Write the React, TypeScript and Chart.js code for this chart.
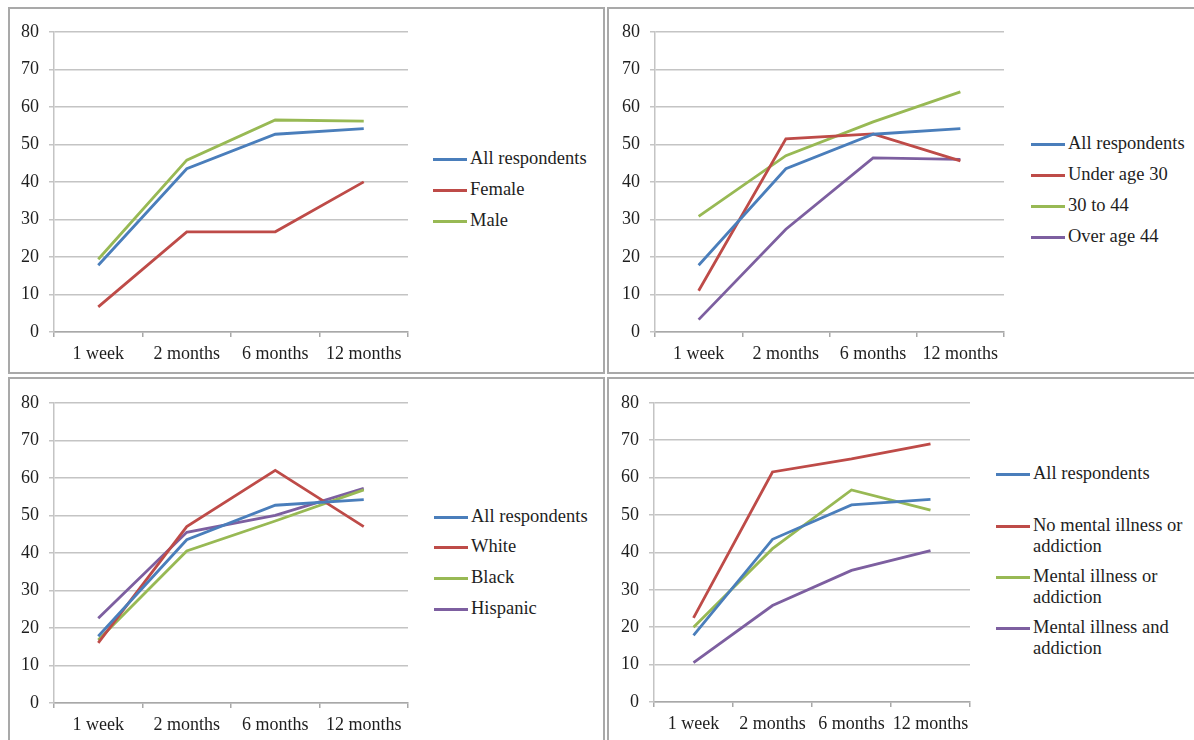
import React, { useEffect, useRef } from "react";
import { Chart, registerables } from "chart.js";

Chart.register(...registerables);

const categories = ["1 week", "2 months", "6 months", "12 months"];
const yTicks = [0, 10, 20, 30, 40, 50, 60, 70, 80];

const allRespondents = [17.8, 43.5, 52.7, 54.2];

// Panel 1: gender
const female = [6.7, 26.7, 26.7, 40.0];
const male = [19.4, 45.8, 56.5, 56.2];

// Panel 2: age
const underAge30 = [11.0, 51.5, 52.8, 45.6];
const age30to44 = [30.8, 47.0, 56.0, 64.0];
const overAge44 = [3.3, 27.4, 46.4, 46.0];

// Panel 3: race
const white = [16.0, 47.0, 62.0, 47.0];
const black = [16.8, 40.5, 48.5, 56.8];
const hispanic = [22.6, 45.5, 50.0, 57.2];

// Panel 4: mental health
const noMentalIllness = [22.5, 61.5, 65.0, 69.0];
const mentalIllnessOr = [20.0, 41.0, 56.7, 51.3];
const mentalIllnessAnd = [10.5, 25.8, 35.2, 40.5];

const BLUE = "#4a7ebb";
const RED = "#be4b48";
const GREEN = "#98b954";
const PURPLE = "#7d5fa0";

const FONT = "'Liberation Serif', 'Times New Roman', serif";
const TEXT = "#1e1e1e";

type Series = { label: string[]; data: number[]; color: string };

type PanelDef = {
  box: { left: number; top: number; width: number; height: number };
  plot: { L: number; T: number; R: number; B: number };
  series: Series[];
  legend: { x: number; ys: number[] };
};

const panels: PanelDef[] = [
  {
    box: { left: 8, top: 7, width: 597, height: 367 },
    plot: { L: 54, T: 27, R: 408, B: 332 },
    series: [
      { label: ["All respondents"], data: allRespondents, color: BLUE },
      { label: ["Female"], data: female, color: RED },
      { label: ["Male"], data: male, color: GREEN },
    ],
    legend: { x: 433, ys: [159, 190, 221] },
  },
  {
    box: { left: 607, top: 7, width: 600, height: 367 },
    plot: { L: 655, T: 27, R: 1004, B: 332 },
    series: [
      { label: ["All respondents"], data: allRespondents, color: BLUE },
      { label: ["Under age 30"], data: underAge30, color: RED },
      { label: ["30 to 44"], data: age30to44, color: GREEN },
      { label: ["Over age 44"], data: overAge44, color: PURPLE },
    ],
    legend: { x: 1031, ys: [144, 175, 206, 237] },
  },
  {
    box: { left: 8, top: 377, width: 597, height: 380 },
    plot: { L: 54, T: 398, R: 408, B: 703 },
    series: [
      { label: ["All respondents"], data: allRespondents, color: BLUE },
      { label: ["White"], data: white, color: RED },
      { label: ["Black"], data: black, color: GREEN },
      { label: ["Hispanic"], data: hispanic, color: PURPLE },
    ],
    legend: { x: 434, ys: [517, 547, 578, 609] },
  },
  {
    box: { left: 607, top: 377, width: 600, height: 380 },
    plot: { L: 654, T: 398, R: 970, B: 702 },
    series: [
      { label: ["All respondents"], data: allRespondents, color: BLUE },
      { label: ["No mental illness or", "addiction"], data: noMentalIllness, color: RED },
      { label: ["Mental illness or", "addiction"], data: mentalIllnessOr, color: GREEN },
      { label: ["Mental illness and", "addiction"], data: mentalIllnessAnd, color: PURPLE },
    ],
    legend: { x: 996, ys: [474, 526, 577, 628] },
  },
];

const Y_AXIS_W = 44;
const PAD_TOP = 16;
const PAD_RIGHT = 12;
const X_AXIS_H = 40;

function Panel({ def }: { def: PanelDef }) {
  const ref = useRef<HTMLCanvasElement | null>(null);
  const { plot } = def;
  const x0 = plot.L - Y_AXIS_W;
  const y0 = plot.T - PAD_TOP;
  const w = plot.R - x0 + PAD_RIGHT;
  const h = plot.B - y0 + X_AXIS_H;

  useEffect(() => {
    if (!ref.current) return;
    const chart = new Chart(ref.current, {
      type: "line",
      data: {
        labels: categories,
        datasets: def.series.map((s) => ({
          label: s.label.join(" "),
          data: s.data,
          borderColor: s.color,
          backgroundColor: s.color,
          borderWidth: 2.8,
          pointRadius: 0,
          tension: 0,
          fill: false,
        })),
      },
      options: {
        animation: false,
        responsive: false,
        maintainAspectRatio: false,
        layout: { padding: { left: 0, top: PAD_TOP, right: PAD_RIGHT, bottom: 0 } },
        plugins: { legend: { display: false }, tooltip: { enabled: false } },
        scales: {
          x: {
            type: "category",
            offset: true,
            grid: {
              offset: true,
              drawOnChartArea: false,
              drawTicks: true,
              tickLength: 5,
              color: "#a8a8a8",
              lineWidth: 1.5,
            },
            border: { display: true, color: "#a8a8a8", width: 1.5 },
            ticks: {
              autoSkip: false,
              maxRotation: 0,
              minRotation: 0,
              padding: 6,
              color: TEXT,
              font: { family: FONT, size: 18 },
            },
            afterFit: (s: any) => {
              s.height = X_AXIS_H;
            },
          },
          y: {
            min: 0,
            max: 80,
            afterBuildTicks: (s: any) => {
              s.ticks = yTicks.map((v) => ({ value: v }));
            },
            grid: {
              color: "#c4c4c4",
              lineWidth: 1.5,
              drawTicks: true,
              tickLength: 5,
            },
            border: { display: true, color: "#c4c4c4", width: 1.5 },
            ticks: {
              padding: 10,
              color: TEXT,
              font: { family: FONT, size: 18 },
            },
            afterFit: (s: any) => {
              s.width = Y_AXIS_W;
            },
          },
        },
      },
    });
    return () => chart.destroy();
  }, [def]);

  return (
    <>
      <div
        style={{
          position: "absolute",
          left: def.box.left,
          top: def.box.top,
          width: def.box.width,
          height: def.box.height,
          boxSizing: "border-box",
          border: "2px solid #a9a9a9",
        }}
      />
      <canvas
        ref={ref}
        width={w}
        height={h}
        style={{ position: "absolute", left: x0, top: y0, width: w, height: h }}
      />
      {def.series.map((s, i) => (
        <div
          key={i}
          style={{
            position: "absolute",
            left: def.legend.x,
            top: def.legend.ys[i] - 11,
            display: "flex",
            alignItems: "flex-start",
            fontFamily: FONT,
            fontSize: 18.5,
            lineHeight: "21px",
            color: TEXT,
            whiteSpace: "nowrap",
          }}
        >
          <div
            style={{
              width: 34,
              height: 3,
              background: s.color,
              marginTop: 10,
              marginRight: 3,
              flex: "none",
            }}
          />
          <div>
            {s.label.map((line, j) => (
              <div key={j}>{line}</div>
            ))}
          </div>
        </div>
      ))}
    </>
  );
}

export default function App() {
  return (
    <div
      style={{
        position: "absolute",
        left: 0,
        top: 0,
        width: 1194,
        height: 740,
        overflow: "hidden",
        background: "#ffffff",
      }}
    >
      {panels.map((p, i) => (
        <Panel key={i} def={p} />
      ))}
    </div>
  );
}
